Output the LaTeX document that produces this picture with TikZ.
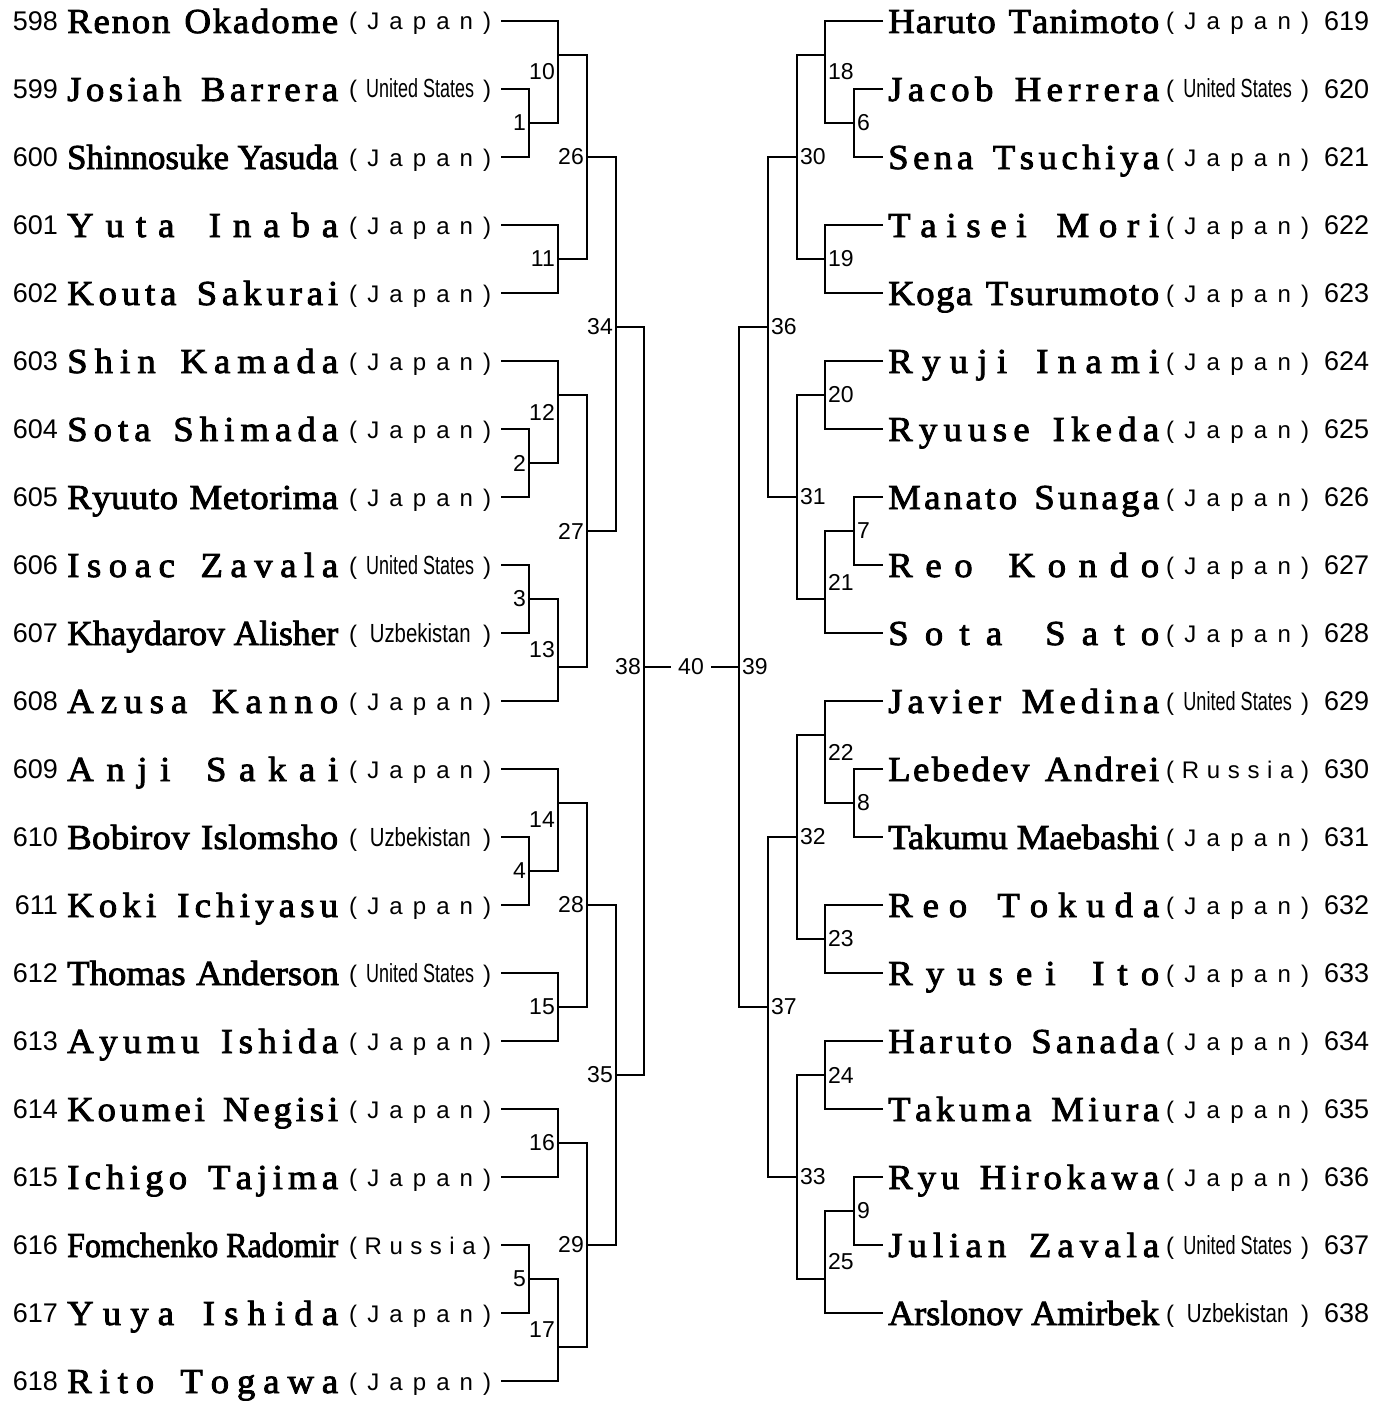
\documentclass[tikz,border=0pt]{standalone}
\usepackage{fontspec}
\usepackage{graphicx}
\setmainfont{Liberation Serif}
\newfontfamily\namefont{Liberation Serif}[FakeBold=2.4,FakeStretch=1.05]
\newfontfamily\numfont{Liberation Sans}

\newlength\namebox
\setlength\namebox{271pt}
\newlength\namew
\newlength\ctryw
\def\spreadword#1{\expandafter\spreadfirst#1\relax}
\def\spreadfirst#1{#1\spreadrest}
\def\spreadrest#1{\ifx#1\relax\else\hfil#1\expandafter\spreadrest\fi}
\newcommand\fitname[2]{%
  \settowidth\namew{#1 #2}%
  \ifdim\namew>\namebox
    \pgfmathsetmacro\namescale{\namebox/\namew}%
    \scalebox{\namescale}[1]{#1 #2}%
  \else
    \makebox[\namebox][s]{\spreadword{#1}\hskip 0.3em plus 2fil\relax\spreadword{#2}}%
  \fi}
\newcommand\ctryJ{\spreadword{(Japan)}}
\newcommand\ctryR{\spreadword{(Russia)}}
\newcommand\ctryU{(\hfil\resizebox{0.76\ctryw}{19pt}{United States}\hfil)}
\newcommand\ctryZ{(\hfil\resizebox{0.71\ctryw}{19pt}{Uzbekistan}\hfil)}

\begin{document}
\begin{tikzpicture}[x=1pt, y=-68.0pt,
  bracket/.style={line width=1.6pt, line join=miter},
  pnum/.style={inner sep=0pt, font=\numfont\fontsize{27}{32}\selectfont, yshift=-9.5pt},
  pname/.style={inner sep=0pt, font=\namefont\fontsize{35}{40}\selectfont, yshift=-12pt},
  pctry/.style={inner sep=0pt, font=\numfont\fontsize{24}{28}\selectfont, yshift=-9pt},
  lablft/.style={anchor=east, inner sep=1pt, xshift=-2pt, font=\numfont\fontsize{23}{27}\selectfont},
  labrgt/.style={anchor=west, inner sep=1pt, xshift=2pt, font=\numfont\fontsize{23}{27}\selectfont}]
\useasboundingbox (0pt,21pt) rectangle (1392pt,-1381pt);

\setlength\ctryw{142pt}
\foreach \num/\first/\last/\nat [count=\r from 0] in {598/Renon/Okadome/J, 599/Josiah/Barrera/U,
  600/Shinnosuke/Yasuda/J, 601/Yuta/Inaba/J, 602/Kouta/Sakurai/J, 603/Shin/Kamada/J,
  604/Sota/Shimada/J, 605/Ryuuto/Metorima/J, 606/Isoac/Zavala/U, 607/Khaydarov/Alisher/Z,
  608/Azusa/Kanno/J, 609/Anji/Sakai/J, 610/Bobirov/Islomsho/Z, 611/Koki/Ichiyasu/J,
  612/Thomas/Anderson/U, 613/Ayumu/Ishida/J, 614/Koumei/Negisi/J, 615/Ichigo/Tajima/J,
  616/Fomchenko/Radomir/R, 617/Yuya/Ishida/J, 618/Rito/Togawa/J}{
  \node[pnum, anchor=base east] (n\num) at (58,\r) {\num};
  \node[pname, anchor=base west] (p\num) at (67,\r) {\fitname{\first}{\last}};
  \node[pctry, anchor=base west] (c\num) at (349,\r) {\makebox[\ctryw][s]{\csname ctry\nat\endcsname}};
  \coordinate (e\num) at (501,\r);
}

\setlength\ctryw{143pt}
\foreach \num/\first/\last/\nat [count=\r from 0] in {619/Haruto/Tanimoto/J, 620/Jacob/Herrera/U,
  621/Sena/Tsuchiya/J, 622/Taisei/Mori/J, 623/Koga/Tsurumoto/J, 624/Ryuji/Inami/J,
  625/Ryuuse/Ikeda/J, 626/Manato/Sunaga/J, 627/Reo/Kondo/J, 628/Sota/Sato/J,
  629/Javier/Medina/U, 630/Lebedev/Andrei/R, 631/Takumu/Maebashi/J, 632/Reo/Tokuda/J,
  633/Ryusei/Ito/J, 634/Haruto/Sanada/J, 635/Takuma/Miura/J, 636/Ryu/Hirokawa/J,
  637/Julian/Zavala/U, 638/Arslonov/Amirbek/Z}{
  \coordinate (e\num) at (883,\r);
  \node[pname, anchor=base west] (p\num) at (888,\r) {\fitname{\first}{\last}};
  \node[pctry, anchor=base west] (c\num) at (1166,\r) {\makebox[\ctryw][s]{\csname ctry\nat\endcsname}};
  \node[pnum, anchor=base west] (n\num) at (1324,\r) {\num};
}

\foreach \m/\x/\o/\l/\a/\b in {1/529/1.5/1.5/e599/e600, 10/558/0.5/0.75/e598/m1,
  11/558/3.5/3.5/e601/e602, 26/587/2/2/m10/m11, 2/529/6.5/6.5/e604/e605,
  12/558/5.5/5.75/e603/m2, 3/529/8.5/8.5/e606/e607, 13/558/9.5/9.25/m3/e608,
  27/587/7.5/7.5/m12/m13, 34/616/4.5/4.5/m26/m27, 4/529/12.5/12.5/e610/e611,
  14/558/11.5/11.75/e609/m4, 15/558/14.5/14.5/e612/e613, 28/587/13/13/m14/m15,
  16/558/16.5/16.5/e614/e615, 5/529/18.5/18.5/e616/e617, 17/558/19.5/19.25/m5/e618,
  29/587/18/18/m16/m17, 35/616/15.5/15.5/m28/m29, 38/644/9.5/9.5/m34/m35}{
  \coordinate (m\m) at (\x,\o);
  \draw[bracket] (\a) -| (m\m) |- (\b);
  \node[lablft] (l\m) at (\x,\l) {\m};
}

\foreach \m/\x/\o/\l/\a/\b in {6/854/1.5/1.5/e620/e621, 18/825/0.5/0.75/e619/m6,
  19/825/3.5/3.5/e622/e623, 30/797/2/2/m18/m19, 20/825/5.5/5.5/e624/e625,
  7/854/7.5/7.5/e626/e627, 21/825/8.5/8.25/m7/e628, 31/797/7/7/m20/m21,
  36/768/4.5/4.5/m30/m31, 8/854/11.5/11.5/e630/e631, 22/825/10.5/10.75/e629/m8,
  23/825/13.5/13.5/e632/e633, 32/797/12/12/m22/m23, 24/825/15.5/15.5/e634/e635,
  9/854/17.5/17.5/e636/e637, 25/825/18.5/18.25/m9/e638, 33/797/17/17/m24/m25,
  37/768/14.5/14.5/m32/m33, 39/739/9.5/9.5/m36/m37}{
  \coordinate (m\m) at (\x,\o);
  \draw[bracket] (\a) -| (m\m) |- (\b);
  \node[labrgt] (l\m) at (\x,\l) {\m};
}

\node[inner sep=7pt, font=\numfont\fontsize{23}{27}\selectfont] (n40) at (691,9.5) {40};
\draw[bracket] (m38) -- (n40);
\draw[bracket] (n40) -- (m39);
\end{tikzpicture}
\end{document}
